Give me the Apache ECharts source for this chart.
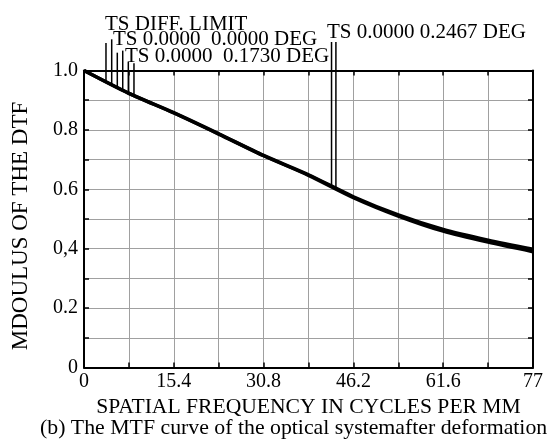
<!DOCTYPE html>
<html>
<head>
<meta charset="utf-8">
<script src="https://cdn.jsdelivr.net/npm/echarts@6/dist/echarts.min.js"></script>
<style>
html,body{margin:0;padding:0;background:#fff;}
#chart{width:548px;height:439px;}
</style>
</head>
<body>
<div id="chart"></div>
<script>
// ---- data ----
const freq = [0, 7.7, 15.4, 23.1, 30.8, 38.5, 46.2, 53.9, 61.6, 69.3, 77];
const mtfT = [1.0, 0.923, 0.858, 0.787, 0.714, 0.649, 0.575, 0.514, 0.465, 0.429, 0.398];
const mtfS = [1.0, 0.923, 0.857, 0.786, 0.713, 0.647, 0.572, 0.510, 0.459, 0.422, 0.390];
const xTickLabels = ['0', '15.4', '30.8', '46.2', '61.6', '77'];
const yTickLabels = ['0', '0.2', '0,4', '0.6', '0.8', '1.0'];
const leaderFreq = [3.77, 4.75, 5.71, 6.64, 7.6, 8.57, 42.45, 43.2];
const leaderTop = [1.093, 1.105, 1.06, 1.067, 1.03, 1.024, 1.096, 1.096];
const annotTexts = ['TS DIFF. LIMIT', 'TS 0.0000  0.0000 DEG', 'TS 0.0000  0.1730 DEG', 'TS 0.0000 0.2467 DEG'];
const xTitle = 'SPATIAL FREQUENCY IN CYCLES PER MM';
const yTitle = 'MDOULUS OF THE DTF';
const caption = '(b) The MTF curve of the optical systemafter deformation';

const FONT = '"Liberation Serif", "Times New Roman", serif';

function interp(xs, ys, x) {
  for (let i = 0; i < xs.length - 1; i++) {
    if (x >= xs[i] && x <= xs[i + 1]) {
      const t = (x - xs[i]) / (xs[i + 1] - xs[i]);
      return ys[i] + t * (ys[i + 1] - ys[i]);
    }
  }
  return ys[ys.length - 1];
}

const chart = echarts.init(document.getElementById('chart'), null, {renderer: 'canvas'});

const curveT = freq.map((f, i) => [f, mtfT[i]]);
const curveS = freq.map((f, i) => [f, mtfS[i]]);

const leaderSeries = leaderFreq.map((f, i) => ({
  type: 'line',
  data: [[f, interp(freq, mtfT, f)], [f, leaderTop[i]]],
  symbol: 'none',
  clip: false,
  silent: true,
  lineStyle: {color: '#000', width: 1.5},
  z: 3
}));

const axisCommon = {
  min: 0,
  axisLine: {show: true, onZero: false, lineStyle: {color: '#000', width: 2}},
  axisTick: {show: true, inside: true, length: 5, lineStyle: {color: '#000', width: 1.5}},
};

const option = {
  backgroundColor: '#fff',
  animation: false,
  grid: {left: 84, right: 15, top: 70.5, bottom: 71.5, containLabel: false},
  xAxis: [
    Object.assign({}, axisCommon, {
      type: 'value', position: 'bottom', max: 77, interval: 7.7,
      name: xTitle, nameLocation: 'middle', nameGap: 16,
      nameTextStyle: {fontFamily: FONT, fontSize: 21.6, color: '#000', verticalAlign: 'top'},
      axisLabel: {
        show: true, margin: 4, fontFamily: FONT, fontSize: 20, color: '#000',
        showMinLabel: true, showMaxLabel: true, hideOverlap: false,
        formatter: function (v) { const k = Math.round(v / 7.7); return k % 2 === 0 ? xTickLabels[k / 2] : ''; }
      },
      splitLine: {show: true, lineStyle: {color: '#a0a0a0', width: 1}}
    }),
    Object.assign({}, axisCommon, {
      type: 'value', position: 'top', max: 77, interval: 7.7,
      axisLabel: {show: false}, splitLine: {show: false}
    })
  ],
  yAxis: [
    Object.assign({}, axisCommon, {
      type: 'value', position: 'left', max: 1, interval: 0.1,
      axisLabel: {
        show: true, margin: 6, fontFamily: FONT, fontSize: 20, color: '#000',
        showMinLabel: true, showMaxLabel: true, hideOverlap: false,
        formatter: function (v) { const k = Math.round(v * 10); return k % 2 === 0 ? yTickLabels[k / 2] : ''; }
      },
      splitLine: {show: true, lineStyle: {color: '#a0a0a0', width: 1}}
    }),
    Object.assign({}, axisCommon, {
      type: 'value', position: 'right', max: 1, interval: 0.1,
      axisLabel: {show: false}, splitLine: {show: false}
    })
  ],
  graphic: [
    {type: 'text', left: 105, top: 13.5, style: {text: annotTexts[0], font: '21px ' + FONT, fill: '#000'}},
    {type: 'text', left: 113, top: 28.5, style: {text: annotTexts[1], font: '21px ' + FONT, fill: '#000'}},
    {type: 'text', left: 125, top: 46, style: {text: annotTexts[2], font: '21px ' + FONT, fill: '#000'}},
    {type: 'text', left: 327, top: 21.5, style: {text: annotTexts[3], font: '21px ' + FONT, fill: '#000'}},
    {type: 'text', x: 20.5, y: 226, rotation: Math.PI / 2,
     style: {text: yTitle, font: '23px ' + FONT, fill: '#000', align: 'center', verticalAlign: 'middle'}},
    {type: 'text', left: 40, top: 417, style: {text: caption, font: '21.8px ' + FONT, fill: '#000'}}
  ],
  series: [
    {type: 'line', data: curveS, symbol: 'none', smooth: 0.25, lineStyle: {color: '#000', width: 3.5}, z: 4},
    {type: 'line', data: curveT, symbol: 'none', smooth: 0.25, lineStyle: {color: '#000', width: 3.5}, z: 4}
  ].concat(leaderSeries)
};

chart.setOption(option);
</script>
</body>
</html>
